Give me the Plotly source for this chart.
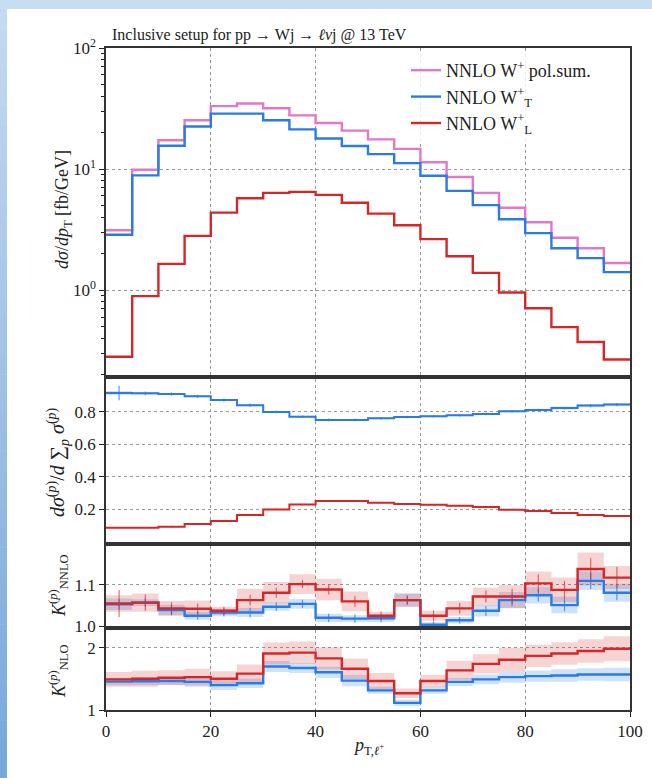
import numpy as np
import plotly.graph_objects as go

# --- binning (p_T of the charged lepton, 5 GeV bins) ---
edges = [0, 5, 10, 15, 20, 25, 30, 35, 40, 45, 50, 55, 60, 65, 70, 75, 80, 85, 90, 95, 100]
centers = [2.5, 7.5, 12.5, 17.5, 22.5, 27.5, 32.5, 37.5, 42.5, 47.5,
           52.5, 57.5, 62.5, 67.5, 72.5, 77.5, 82.5, 87.5, 92.5, 97.5]

# --- NNLO differential cross sections [fb/GeV] ---
xs_polsum = [3.13, 9.87, 17.3, 25.3, 33.1, 34.8, 31.8, 27.8, 24.0, 20.8,
             17.6, 14.7, 11.4, 8.6, 6.37, 4.80, 3.64, 2.71, 2.22, 1.68]
xs_T = [2.87, 8.87, 15.6, 22.5, 28.7, 28.7, 25.3, 21.3, 17.9, 15.5,
        13.3, 11.2, 8.81, 6.61, 5.04, 3.85, 2.96, 2.22, 1.84, 1.41]
xs_L = [0.282, 0.893, 1.65, 2.81, 4.37, 5.75, 6.37, 6.49, 6.13, 5.27,
        4.29, 3.44, 2.64, 1.91, 1.39, 0.958, 0.709, 0.496, 0.374, 0.268]

# --- polarisation fractions ---
frac_T = [0.914, 0.912, 0.908, 0.894, 0.871, 0.839, 0.798, 0.769, 0.749, 0.749,
          0.759, 0.767, 0.772, 0.778, 0.786, 0.802, 0.810, 0.822, 0.837, 0.843]
frac_L = [0.088, 0.088, 0.094, 0.110, 0.129, 0.165, 0.200, 0.230, 0.251, 0.251,
          0.241, 0.233, 0.228, 0.222, 0.214, 0.198, 0.190, 0.178, 0.165, 0.159]
frac_T_band = [0.012, 0.008, 0.006, 0.006, 0.006, 0.006, 0.006, 0.006, 0.006, 0.006,
               0.006, 0.006, 0.006, 0.006, 0.006, 0.007, 0.008, 0.009, 0.010, 0.010]
frac_L_band = [0.004, 0.004, 0.004, 0.004, 0.004, 0.004, 0.005, 0.005, 0.005, 0.005,
               0.005, 0.005, 0.005, 0.005, 0.005, 0.005, 0.005, 0.005, 0.005, 0.005]
frac_T_err = [0.045, 0.012, 0.010, 0.010, 0.010, 0.010, 0.008, 0.008, 0.008, 0.008,
              0.008, 0.008, 0.008, 0.008, 0.008, 0.008, 0.008, 0.008, 0.010, 0.010]
frac_L_err = [0.004, 0.004, 0.004, 0.004, 0.004, 0.004, 0.004, 0.004, 0.004, 0.004,
              0.004, 0.004, 0.004, 0.004, 0.004, 0.004, 0.004, 0.004, 0.004, 0.004]

# --- NNLO/NLO K-factors ---
knnlo_L = [1.055, 1.057, 1.043, 1.042, 1.037, 1.063, 1.081, 1.102, 1.089, 1.060,
           1.025, 1.063, 1.025, 1.043, 1.072, 1.072, 1.104, 1.088, 1.139, 1.118]
knnlo_T = [1.053, 1.057, 1.039, 1.025, 1.033, 1.033, 1.047, 1.054, 1.020, 1.018,
           1.019, 1.063, 1.003, 1.014, 1.037, 1.063, 1.075, 1.051, 1.110, 1.081]
knnlo_L_band = [0.020, 0.022, 0.018, 0.020, 0.010, 0.028, 0.026, 0.024, 0.026, 0.024,
                0.010, 0.016, 0.012, 0.018, 0.022, 0.028, 0.029, 0.030, 0.040, 0.028]
knnlo_T_band = [0.014, 0.008, 0.013, 0.010, 0.009, 0.011, 0.010, 0.012, 0.010, 0.008,
                0.009, 0.016, 0.006, 0.008, 0.014, 0.020, 0.020, 0.020, 0.022, 0.022]
knnlo_L_err = [0.033, 0.020, 0.015, 0.013, 0.010, 0.013, 0.012, 0.010, 0.012, 0.013,
               0.010, 0.012, 0.013, 0.013, 0.015, 0.018, 0.022, 0.022, 0.026, 0.026]
knnlo_T_err = [0.012, 0.010, 0.013, 0.010, 0.010, 0.012, 0.010, 0.010, 0.010, 0.010,
               0.010, 0.010, 0.008, 0.008, 0.012, 0.015, 0.015, 0.015, 0.020, 0.018]

# --- NLO/LO K-factors ---
knlo_L = [1.492, 1.503, 1.518, 1.528, 1.503, 1.585, 1.907, 1.922, 1.829, 1.663,
          1.466, 1.269, 1.466, 1.637, 1.741, 1.808, 1.870, 1.907, 1.948, 1.984]
knlo_T = [1.456, 1.461, 1.466, 1.451, 1.399, 1.430, 1.699, 1.674, 1.606, 1.472,
          1.316, 1.114, 1.316, 1.451, 1.492, 1.528, 1.544, 1.554, 1.570, 1.570]
knlo_L_band = [0.120, 0.128, 0.120, 0.133, 0.120, 0.145, 0.178, 0.178, 0.178, 0.166,
               0.128, 0.077, 0.100, 0.153, 0.153, 0.190, 0.180, 0.180, 0.190, 0.200]
knlo_T_band = [0.064, 0.064, 0.064, 0.077, 0.077, 0.077, 0.090, 0.080, 0.090, 0.090,
               0.056, 0.050, 0.056, 0.064, 0.077, 0.090, 0.090, 0.100, 0.100, 0.110]

PINK = "#e377c8"
BLUE = "#2a7be4"
RED = "#d62728"
BLUE_FILL = "rgba(42,123,228,0.22)"
RED_FILL = "rgba(214,39,40,0.20)"
BLUE_ERR = "rgba(42,123,228,0.75)"
RED_ERR = "rgba(214,39,40,0.65)"
FONT = "Liberation Serif"

fig = go.Figure()


def step_y(vals):
    v = list(vals)
    return v + [v[-1]]


def add_step(vals, color, xa, ya, name=None, show=False, width=2.4):
    fig.add_trace(go.Scatter(
        x=edges, y=step_y(vals), mode="lines", line=dict(color=color, width=width, shape="hv"),
        name=name, showlegend=show, xaxis=xa, yaxis=ya, hoverinfo="skip"))


def add_band(vals, half, fill, xa, ya):
    lo = [v - h for v, h in zip(vals, half)]
    hi = [v + h for v, h in zip(vals, half)]
    fig.add_trace(go.Scatter(x=edges, y=step_y(lo), mode="lines",
                             line=dict(width=0, shape="hv"), showlegend=False,
                             xaxis=xa, yaxis=ya, hoverinfo="skip"))
    fig.add_trace(go.Scatter(x=edges, y=step_y(hi), mode="lines",
                             line=dict(width=0, shape="hv"), fill="tonexty", fillcolor=fill,
                             showlegend=False, xaxis=xa, yaxis=ya, hoverinfo="skip"))


def add_err(vals, err, color, xa, ya):
    fig.add_trace(go.Scatter(x=centers, y=vals, mode="markers", marker=dict(size=0.1, color=color),
                             error_y=dict(type="data", array=err, color=color, thickness=1.2, width=0),
                             showlegend=False, xaxis=xa, yaxis=ya, hoverinfo="skip"))


# main panel
add_step(xs_polsum, PINK, "x", "y", "NNLO W<sup>+</sup> pol.sum.", True)
add_step(xs_T, BLUE, "x", "y", "NNLO W<sup>+</sup><sub>T</sub>", True)
add_step(xs_L, RED, "x", "y", "NNLO W<sup>+</sup><sub>L</sub>", True)

# fractions panel
add_band(frac_T, frac_T_band, BLUE_FILL, "x2", "y2")
add_band(frac_L, frac_L_band, RED_FILL, "x2", "y2")
add_step(frac_T, BLUE, "x2", "y2", width=2)
add_step(frac_L, RED, "x2", "y2", width=2)
add_err(frac_T, frac_T_err, BLUE_ERR, "x2", "y2")
add_err(frac_L, frac_L_err, RED_ERR, "x2", "y2")

# K_NNLO panel
add_band(knnlo_T, knnlo_T_band, BLUE_FILL, "x3", "y3")
add_band(knnlo_L, knnlo_L_band, RED_FILL, "x3", "y3")
add_step(knnlo_T, BLUE, "x3", "y3")
add_step(knnlo_L, RED, "x3", "y3")
add_err(knnlo_T, knnlo_T_err, BLUE_ERR, "x3", "y3")
add_err(knnlo_L, knnlo_L_err, RED_ERR, "x3", "y3")

# K_NLO panel
add_band(knlo_T, knlo_T_band, BLUE_FILL, "x4", "y4")
add_band(knlo_L, knlo_L_band, RED_FILL, "x4", "y4")
add_step(knlo_T, BLUE, "x4", "y4")
add_step(knlo_L, RED, "x4", "y4")

W, H = 652, 778
ML, MR, MT, MB = 106, 22, 48, 68
PW, PH = W - ML - MR, H - MT - MB


def ydom(top_px, bot_px):
    return [(H - MB - bot_px) / PH, (H - MB - top_px) / PH]


grid = dict(showgrid=True, gridcolor="#9a9a9a", griddash="dot", gridwidth=0.8)
frame = dict(showline=True, linecolor="#333", linewidth=1.5, mirror=True, zeroline=False)
tickfont = dict(family=FONT, size=17, color="#222")

xcommon = dict(range=[0, 100], tickvals=[0, 20, 40, 60, 80, 100], **grid, **frame)
fig.update_layout(
    xaxis=dict(**xcommon, anchor="y", showticklabels=False, ticks=""),
    xaxis2=dict(**xcommon, anchor="y2", matches="x", showticklabels=False, ticks=""),
    xaxis3=dict(**xcommon, anchor="y3", matches="x", showticklabels=False, ticks=""),
    xaxis4=dict(**xcommon, anchor="y4", matches="x", ticks="outside", ticklen=5,
                tickcolor="#222", tickfont=tickfont),
    yaxis=dict(type="log", range=[-0.7, 2.0], domain=ydom(48, 375), anchor="x",
               tickvals=[1, 10, 100], ticktext=["10<sup>0</sup>", "10<sup>1</sup>", "10<sup>2</sup>"],
               ticks="outside", ticklen=5, tickcolor="#222", tickfont=tickfont,
               minor=dict(ticks="outside", ticklen=3, tickcolor="#222", showgrid=False,
                          tickvals=[0.2, 0.3, 0.4, 0.5, 0.6, 0.7, 0.8, 0.9,
                                    2, 3, 4, 5, 6, 7, 8, 9, 20, 30, 40, 50, 60, 70, 80, 90]),
               **grid, **frame),
    yaxis2=dict(range=[0, 1.0], domain=ydom(379, 542), anchor="x2",
                tickvals=[0.2, 0.4, 0.6, 0.8], ticktext=["0.2", "0.4", "0.6", "0.8"],
                ticks="outside", ticklen=5, tickcolor="#222", tickfont=tickfont, **grid, **frame),
    yaxis3=dict(range=[1.0, 1.195], domain=ydom(546, 626), anchor="x3",
                tickvals=[1.0, 1.1], ticktext=["1.0", "1.1"],
                ticks="outside", ticklen=5, tickcolor="#222", tickfont=tickfont, **grid, **frame),
    yaxis4=dict(range=[1.0, 2.285], domain=ydom(630, 710), anchor="x4",
                tickvals=[1, 2], ticktext=["1", "2"],
                ticks="outside", ticklen=5, tickcolor="#222", tickfont=tickfont, **grid, **frame),
)

# decorative frame around the page
shapes = []


def px_x(p):
    return (p - ML) / PW


def px_y(p):
    return (H - MB - p) / PH


shapes.append(dict(type="rect", xref="paper", yref="paper", x0=px_x(0), x1=px_x(W),
                   y0=px_y(9), y1=px_y(0), fillcolor="#c7ddf2", line=dict(width=0), layer="below"))
top_c = np.array([0xc4, 0xdb, 0xf1])
bot_c = np.array([0x78, 0xa8, 0xd9])
nseg = 40
for i in range(nseg):
    t = (i + 0.5) / nseg
    c = (top_c * (1 - t) + bot_c * t).astype(int)
    y0p = 9 + (H - 9) * i / nseg
    y1p = 9 + (H - 9) * (i + 1) / nseg
    shapes.append(dict(type="rect", xref="paper", yref="paper", x0=px_x(0), x1=px_x(7),
                       y0=px_y(y1p + 0.5), y1=px_y(y0p), fillcolor="rgb(%d,%d,%d)" % tuple(c),
                       line=dict(width=0), layer="below"))


def ylabel(text, xpx, ypx, size=18):
    return dict(text=text, xref="paper", yref="paper", x=px_x(xpx), y=px_y(ypx),
                xanchor="center", yanchor="middle", textangle=-90, showarrow=False,
                font=dict(family=FONT, size=size, color="#222"))


annotations = [
    dict(text="Inclusive setup for pp → Wj → <i>ℓν</i>j @ 13 TeV", xref="paper", yref="paper",
         x=px_x(110), y=px_y(46), xanchor="left", yanchor="bottom", showarrow=False,
         font=dict(family=FONT, size=16, color="#222")),
    ylabel("<i>dσ</i>/<i>dp</i><sub>T</sub> [fb/GeV]", 64, 210),
    ylabel("<i>dσ</i><sup>(<i>p</i>)</sup>/<i>d</i> ∑<sub><i>p</i></sub> <i>σ</i><sup>(<i>p</i>)</sup>",
           58, 462, size=20),
    ylabel("<i>K</i><sup>(<i>p</i>)</sup><sub>NNLO</sub>", 58, 586),
    ylabel("<i>K</i><sup>(<i>p</i>)</sup><sub>NLO</sub>", 58, 671),
    dict(text="<i>p</i><sub>T,<i>ℓ</i><sup>+</sup></sub>", xref="paper", yref="paper",
         x=0.5, y=px_y(746), xanchor="center", yanchor="middle", showarrow=False,
         font=dict(family=FONT, size=18, color="#222")),
]

fig.update_layout(
    width=W, height=H, margin=dict(l=ML, r=MR, t=MT, b=MB, autoexpand=False),
    paper_bgcolor="white", plot_bgcolor="white",
    shapes=shapes, annotations=annotations,
    font=dict(family=FONT, size=17, color="#222"),
    legend=dict(x=px_x(406), y=px_y(52), xanchor="left", yanchor="top", traceorder="normal",
                bgcolor="rgba(255,255,255,0.8)", borderwidth=0,
                font=dict(family=FONT, size=18, color="#222"), tracegroupgap=0),
)

fig.write_html("out.html")
